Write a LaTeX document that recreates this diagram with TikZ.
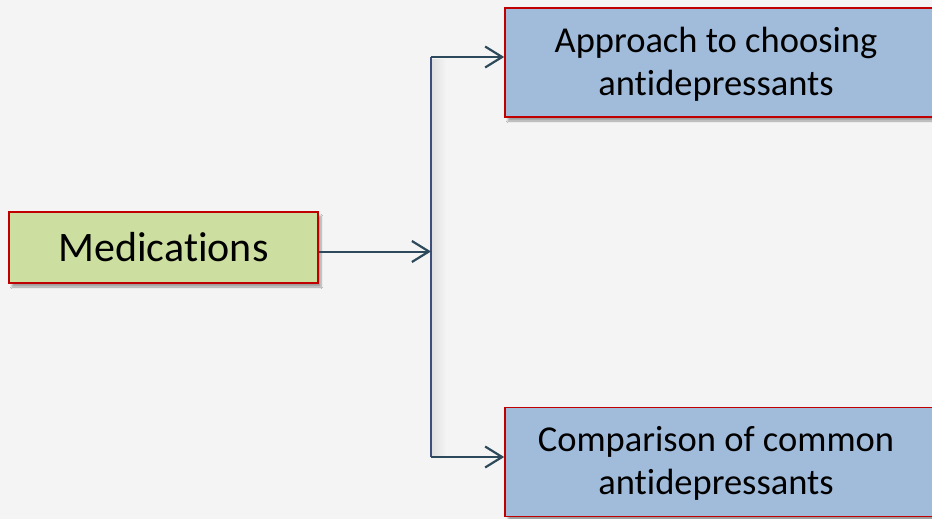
\documentclass[tikz,border=0pt]{standalone}
\usepackage{fontspec}
\setmainfont{Carlito}[Ligatures=NoCommon]
\usetikzlibrary{arrows.meta,shadows.blur}
\definecolor{bgcol}{HTML}{F4F4F4}
\definecolor{greenfill}{HTML}{CDDFA0}
\definecolor{bluefill}{HTML}{A1BCDA}
\definecolor{boxline}{HTML}{C00000}
\definecolor{arrowcol}{HTML}{2C4A5B}
\definecolor{barcol}{HTML}{3D4E7C}
\tikzset{
  box/.style={draw=boxline, line width=1.6pt, inner sep=0pt, align=center,
    blur shadow={shadow xshift=3pt, shadow yshift=-4pt, shadow blur steps=6, shadow opacity=35}},
  rootbox/.style={box, fill=greenfill, minimum width=309pt, minimum height=71pt,
    font=\fontsize{42}{50}\selectfont},
  leafbox/.style={box, fill=bluefill, minimum width=430pt, minimum height=109pt},
  leaftext/.style={inner sep=0pt, align=center, font=\fontsize{36.5}{43}\selectfont},
  link/.style={draw=arrowcol, line width=2pt,
    -{Straight Barb[length=17pt, width=21pt, line width=2.2pt]}},
  bar/.style={draw=barcol, line width=2pt}
}
\begin{document}
\begin{tikzpicture}[x=1pt,y=-1pt]
  \fill[bgcol] (0,0) rectangle (932,519);
  \useasboundingbox (0,0) rectangle (932,519);

  % soft shading beside the bracket
  \fill[left color=black!12, right color=bgcol, draw=none] (432,60) rectangle (446,455);

  \node[rootbox] (med) at (163.5,247.5) {Medications};

  \node[leafbox] (top) at (720,62.5) {};
  \node[leaftext] (toptext) at (716,64) {Approach to choosing\\antidepressants};

  \node[leafbox] (bot) at (720,462) {};
  \node[leaftext] (bottext) at (716,463.5) {Comparison of common\\antidepressants};

  \coordinate (jt) at (431,57);
  \coordinate (jm) at (431,251.5);
  \coordinate (jb) at (431,457);

  \draw[bar] (jt) -- (jb);
  \draw[link] (jm -| med.east) -- (jm);
  \draw[link] (jt) -- (jt -| top.west);
  \draw[link] (jb) -- (jb -| bot.west);
\end{tikzpicture}
\end{document}
